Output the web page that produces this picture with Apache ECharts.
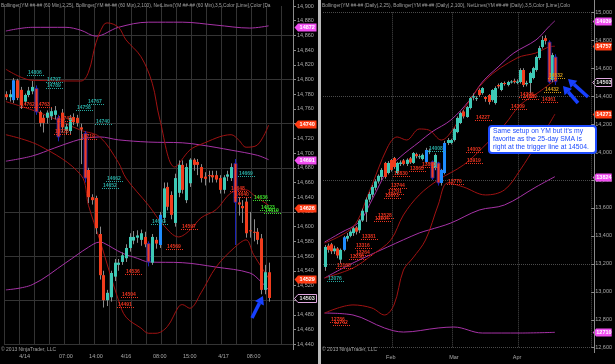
<!DOCTYPE html>
<html>
<head>
<meta charset="utf-8">
<title>YM 60 Min / Daily</title>
<script src="https://cdn.jsdelivr.net/npm/echarts@6.0.0/dist/echarts.min.js"></script>
<style>
html,body{margin:0;padding:0;background:#000;overflow:hidden;}
#chart{width:615px;height:364px;}
</style>
</head>
<body>
<div id="chart"></div>
<script>
// ================= LEFT PANEL : YM 60 Min =================
const leftCategoryCount = 77;
const leftTickLabels = [[5,'4/14'],[16,'07:00'],[24,'14:00'],[32,'4/16'],[41,'08:00'],[49,'15:00'],[58,'4/17'],[66,'08:00']];
const leftVGrid = [0,4,8,12,16,20,24,28,30,34,38,42,46,50,54,58,62,66,70,74];
const leftHGrid = [14440,14500,14560,14620,14680,14740,14800,14860];
// [open, close, low, high]
const leftCandles = [
 [14780,14776,14772,14784],[14776,14780,14770,14786],[14772,14799,14768,14802],[14799,14775,14772,14801],
 [14786,14765,14760,14790],[14770,14779,14766,14781],[14779,14785,14776,14790],[14784,14790,14780,14798],
 [14788,14756,14752,14792],[14756,14741,14736,14758],[14748,14741,14728,14752],[14748,14755,14740,14758],
 [14750,14757,14745,14762],[14752,14758,14746,14764],[14748,14722,14716,14752],[14755,14735,14728,14760],
 [14730,14736,14726,14740],[14730,14748,14726,14752],[14749,14742,14738,14754],[14748,14741,14736,14752],
 [14735,14732,14685,14740],[14727,14666,14660,14730],[14677,14640,14632,14680],[14640,14636,14630,14644],
 [14639,14598,14590,14642],[14590,14534,14528,14600],[14534,14500,14490,14540],[14500,14510,14492,14514],
 [14504,14537,14498,14540],[14532,14551,14526,14556],[14548,14551,14540,14556],[14552,14561,14548,14565],
 [14557,14571,14552,14576],[14571,14586,14566,14591],[14581,14586,14576,14594],[14585,14588,14578,14595],
 [14582,14591,14574,14596],[14586,14576,14572,14593],[14577,14552,14546,14580],[14551,14586,14548,14590],
 [14582,14577,14570,14586],[14575,14616,14571,14620],[14612,14652,14605,14660],[14654,14627,14622,14660],
 [14643,14616,14610,14648],[14605,14666,14600,14672],[14646,14684,14640,14690],[14684,14650,14645,14690],
 [14636,14681,14632,14686],[14659,14691,14654,14693],[14691,14684,14676,14693],[14688,14684,14670,14692],
 [14681,14666,14660,14685],[14668,14665,14656,14674],[14670,14669,14660,14676],[14670,14667,14660,14676],
 [14670,14664,14660,14676],[14666,14650,14645,14670],[14650,14667,14645,14670],[14668,14671,14662,14676],
 [14666,14681,14662,14686],[14686,14633,14575,14692],[14633,14630,14615,14640],[14628,14625,14605,14636],
 [14634,14591,14585,14640],[14595,14594,14585,14620],[14593,14592,14580,14610],[14593,14582,14576,14598],
 [14584,14514,14508,14590],[14514,14538,14508,14548],[14538,14503,14498,14551]
];
const leftBlueBars = [2,41];
const leftOutlinedBars = [8,14,21,38,61];
// Bollinger (2,100) purple
const leftUpper100 = [[0,14866],[7,14871],[16,14871],[20,14867],[24,14859],[30,14871],[38,14878],[47,14878],[56,14874],[65,14870],[70,14873]];
const leftMid100   = [[0,14689],[7,14696],[13,14707],[18,14716],[21,14720],[25,14722],[30,14718],[38,14715],[47,14714],[52,14711],[60,14704],[67,14697],[70,14691]];
const leftLower100 = [[0,14514],[7,14521],[16,14551],[22,14572],[25,14579],[26,14578],[31,14564],[35,14557],[38,14552],[47,14551],[56,14545],[65,14537],[68,14525],[70,14514]];
// Bollinger (2,25) dark red
const leftUpper25 = [[0,14814],[7,14799],[20,14798],[22,14810],[24,14850],[26,14874],[27,14877],[30,14871],[32,14854],[36,14831],[39,14795],[41,14746],[45,14681],[49,14704],[52,14712],[60,14725],[62,14718],[64,14708],[67,14711],[70,14738]];
const leftMid25   = [[0,14770],[9,14755],[20,14731],[25,14722],[30,14687],[32,14666],[38,14629],[42,14602],[46,14586],[49,14595],[52,14612],[56,14623],[60,14646],[64,14650],[66,14643],[70,14629]];
const leftLower25 = [[0,14725],[9,14710],[20,14670],[22,14629],[25,14582],[30,14500],[32,14477],[36,14462],[38,14455],[40,14455],[43,14464],[46,14491],[47,14494],[49,14489],[52,14510],[56,14545],[61,14572],[64,14582],[66,14562],[70,14530]];
// NetLines levels [bar, level, colour: 0 red,1 teal,2 lime,3 orange]
const leftNetLevels = [
 [6,14806,1],[11,14797,1],[11,14789,1],[4,14762,0],[8,14763,0],[22,14767,1],[19,14758,1],[24,14740,1],
 [14,14743,0],[13,14726,0],[20,14719,0],[27,14662,1],[26,14652,1],[39,14603,1],[62,14669,1],[60,14648,0],
 [61,14640,0],[66,14636,2],[68,14623,2],[69,14619,2],[47,14597,0],[43,14569,0],[32,14536,0],[31,14504,0],[30,14491,0]
];
// price markers on the axis [value, kind: 0 pink, 1 red, 2 last]
const leftMarkers = [[14872,0],[14740,1],[14691,0],[14626,1],[14529,1],[14503,2]];

// ================= RIGHT PANEL : YM Daily =================
const rightCategoryCount = 85;
const rightTickLabels = [[21,'Feb'],[41,'Mar'],[61,'Apr']];
const rightVGrid = [22,41,62];
const rightHGrid = [12600,13200,13800,14400,15000];
const rightCandles = [
 [13178,13321,13150,13335],[13330,13300,13280,13345],[13340,13290,13270,13350],[13290,13310,13270,13330],
 [13310,13260,13240,13320],[13230,13300,13200,13310],[13300,13390,13290,13400],[13380,13400,13360,13420],
 [13400,13430,13390,13440],[13420,13455,13400,13465],[13460,13430,13410,13470],[13440,13510,13420,13520],
 [13510,13580,13500,13595],[13570,13660,13500,13675],[13660,13700,13640,13715],[13695,13750,13675,13765],
 [13745,13790,13725,13805],[13790,13830,13775,13840],[13822,13872,13800,13885],[13922,13822,13810,13930],
 [13850,13922,13840,13935],[13943,13872,13860,13950],[13957,13893,13880,13965],[13850,13922,13840,13930],
 [13915,13925,13900,13940],[13940,13915,13905,13950],[13915,13945,13900,13955],[13955,13925,13915,13965],
 [13922,13993,13915,14000],[13985,13970,13955,13995],[13965,13970,13950,13985],[13950,13980,13940,13990],
 [13929,14015,13920,14030],[14000,14010,13985,14025],[13930,13814,13800,13940],[13886,13979,13870,13990],
 [13922,13779,13760,13930],[13779,13872,13760,13880],[13850,14065,13840,14080],[14065,14086,14050,14100],
 [14065,14086,14055,14095],[14086,14165,14075,14175],[14143,14244,14135,14255],[14208,14279,14200,14290],
 [14290,14255,14240,14300],[14251,14322,14245,14330],[14315,14386,14305,14395],[14390,14400,14370,14420],
 [14380,14386,14365,14400],[14444,14408,14395,14455],[14422,14458,14410,14465],[14394,14380,14360,14400],
 [14408,14358,14340,14415],[14372,14444,14360,14450],[14351,14458,14340,14470],[14480,14470,14455,14490],
 [14444,14494,14435,14500],[14494,14490,14475,14505],[14480,14501,14470,14510],[14500,14505,14490,14515],
 [14510,14500,14490,14525],[14495,14505,14485,14520],[14501,14587,14490,14600],[14587,14480,14465,14600],
 [14485,14495,14470,14510],[14494,14566,14420,14575],[14530,14601,14520,14610],[14587,14680,14575,14690],
 [14673,14744,14660,14760],[14752,14802,14740,14830],[14815,14795,14770,14835],[14787,14501,14490,14800],
 [14516,14694,14500,14710],[14680,14503,14480,14700]
];
const rightBlueBars = [6,32,37,38];
const rightOutlinedBars = [34,36,71,73];
const rightUpper100 = [[0,13356],[5,13421],[11,13500],[15,13657],[20,13871],[24,13965],[30,14072],[34,14144],[40,14229],[46,14372],[50,14501],[55,14609],[60,14709],[67,14802],[71,14895],[73,14939]];
const rightMid100   = [[0,13099],[9,13206],[20,13321],[30,13421],[33,13442],[40,13492],[49,13585],[57,13621],[67,13750],[73,13824]];
const rightLower100 = [[0,12848],[9,12834],[19,12741],[25,12712],[36,12741],[41,12748],[50,12705],[62,12705],[73,12710]];
const rightUpper25 = [[0,13349],[9,13464],[14,13707],[20,14036],[23,14108],[26,14086],[30,14165],[33,14158],[37,14086],[41,14172],[44,14301],[51,14516],[61,14673],[67,14709],[71,14752],[73,14757]];
const rightMid25   = [[0,13099],[9,13170],[15,13263],[21,13371],[25,13550],[30,13693],[36,13800],[44,13907],[50,14029],[57,14194],[62,14337],[68,14430],[73,14514]];
const rightLower25 = [[0,12848],[9,12906],[15,12884],[19,12834],[22,12906],[25,13156],[28,13242],[32,13371],[36,13621],[39,13779],[44,13750],[51,13693],[57,13729],[62,13872],[67,14050],[71,14194],[73,14271]];
const rightNetLevels = [
 [1,13076,1],[4,13168,0],[8,13238,0],[10,13264,0],[10,13316,0],[12,13381,0],[16,13504,0],[17,13528,0],
 [19,13673,0],[20,13701,0],[21,13744,0],[22,13830,0],[27,13863,0],[31,13890,0],[33,14008,1],[39,13770,0],
 [45,13919,0],[45,14003,0],[48,14227,0],[59,14309,0],[62,14396,0],[63,14380,0],[69,14361,0],[70,14432,3],
 [71,14532,3],[2,12786,0],[3,12762,0]
];
const rightMarkers = [[14939,0],[14757,1],[14503,2],[14271,1],[13824,0],[12710,0]];

const leftTitle = 'Bollinger(YM ##-## (60 Min),2,25), Bollinger(YM ##-## (60 Min),2,100), NetLines(YM ##-## (60 Min),3,5,Color [Lime],Color [Da';
const rightTitle = 'Bollinger(YM ##-## (Daily),2,25), Bollinger(YM ##-## (Daily),2,100), NetLines(YM ##-## (Daily),3,5,Color [Lime],Colo';
const copyrightText = '\u00A9 2013 NinjaTrader, LLC';
const noteLines = ["Same setup on YM but it's my", 'favorite as the 25-day SMA is', 'right at the trigger line at 14504.'];

// ================= STYLE =================
const C_UP = '#3ec9b6', C_DN = '#f23c1c', C_BLUE = '#1e8cff', C_DKBLUE = '#1a22b8', C_WICK = '#8a8a8a';
const C_PURPLE = '#a632a6', C_DKRED = '#a01212';
const NET_COLORS = ['#e8321e', '#26a8a0', '#3bd62a', '#d49a18'];
const MARK_STYLE = [
  {bg:'#f04ef0', fg:'#ffffff', stroke:null},
  {bg:'#ff3a12', fg:'#ffffff', stroke:null},
  {bg:'#000000', fg:'#e6e6e6', stroke:'#e0a8e0'}
];
const FONT = '"Liberation Sans", Arial, sans-serif';
const ARROW_BLUE = '#1740ff';

function candleData(list, blue, outl) {
  return list.map((d, i) => [i, d[0], d[1], d[2], d[3], blue.includes(i) ? 1 : (outl.includes(i) ? 2 : 0)]);
}
function renderCandle(params, api) {
  const i = api.value(0);
  const o = api.value(1), c = api.value(2), l = api.value(3), h = api.value(4), st = api.value(5);
  const po = api.coord([i, o]), pc = api.coord([i, c]), pl = api.coord([i, l]), ph = api.coord([i, h]);
  const bw = Math.max(2, Math.round(api.size([1, 0])[0] * 0.8));
  const cx = Math.round(po[0]) + 0.5;
  let fill = c >= o ? C_UP : C_DN;
  if (st === 1) fill = C_BLUE;
  const top = Math.min(po[1], pc[1]);
  const hh = Math.max(1, Math.abs(po[1] - pc[1]));
  const wick = st === 2 ? C_DKBLUE : C_WICK;
  return {type: 'group', children: [
    {type: 'line', shape: {x1: cx, y1: ph[1], x2: cx, y2: pl[1]}, style: {stroke: wick, lineWidth: 1}},
    {type: 'rect', shape: {x: cx - bw / 2, y: top, width: bw, height: hh},
     style: {fill: fill, stroke: st === 2 ? C_DKBLUE : null, lineWidth: st === 2 ? 0.8 : 0}}
  ]};
}
function renderNet(params, api) {
  const p = api.coord([api.value(0), api.value(1)]);
  const col = NET_COLORS[api.value(2)];
  const x = Math.round(p[0]) - 1, y = Math.round(p[1]) + 0.5;
  return {type: 'group', children: [
    {type: 'line', shape: {x1: x, y1: y, x2: x + 17, y2: y}, style: {stroke: col, lineWidth: 1, lineDash: [1, 1]}},
    {type: 'text', x: x + 1, y: y - 0.5, style: {text: String(api.value(1)), fill: col, font: 'bold 5px ' + FONT, align: 'left', verticalAlign: 'bottom'}}
  ]};
}
function makeMarkerRender(width) {
  return function (params, api) {
    const cs = params.coordSys;
    const y = Math.round(api.coord([0, api.value(1)])[1]) + 0.5;
    const x0 = cs.x + cs.width + 1.5;
    const k = MARK_STYLE[api.value(2)];
    const h = 8;
    return {type: 'group', children: [
      {type: 'polygon', shape: {points: [[x0, y], [x0 + 3.5, y - h / 2], [x0 + width, y - h / 2], [x0 + width, y + h / 2], [x0 + 3.5, y + h / 2]]},
       style: {fill: k.bg, stroke: k.stroke, lineWidth: k.stroke ? 1 : 0}},
      {type: 'text', x: x0 + 3.5 + (width - 3.5) / 2, y: y, style: {text: String(api.value(1)), fill: k.fg, font: 'bold 5.5px ' + FONT, align: 'center', verticalAlign: 'middle'}}
    ]};
  };
}
function lineSeries(data, color, ax, extra) {
  return Object.assign({type: 'line', data: data, xAxisIndex: ax, yAxisIndex: ax, showSymbol: false, symbol: 'none',
    smooth: 0.35, lineStyle: {color: color, width: 1}, itemStyle: {color: color}, z: 2, silent: true, animation: false}, extra || {});
}
function hGridMark(values, color, dash) {
  return {markLine: {silent: true, symbol: ['none', 'none'], label: {show: false}, animation: false, z: 1,
    lineStyle: {color: color, type: dash, width: 1}, emphasis: {disabled: true},
    data: values.map(v => ({yAxis: v}))}};
}
function tickMap(list) { const m = {}; list.forEach(t => { m[t[0]] = t[1]; }); return m; }
const leftTickMap = tickMap(leftTickLabels), rightTickMap = tickMap(rightTickLabels);

function arrow(x1, y1, x2, y2) {
  const dx = x2 - x1, dy = y2 - y1, L = Math.hypot(dx, dy), ux = dx / L, uy = dy / L;
  const hl = 8, hw = 5;
  const bx = x2 - ux * hl, by = y2 - uy * hl;
  return [
    {type: 'line', z: 100, shape: {x1: x1, y1: y1, x2: bx, y2: by}, style: {stroke: ARROW_BLUE, lineWidth: 3.5}},
    {type: 'polygon', z: 100, shape: {points: [[x2, y2], [bx - uy * hw, by + ux * hw], [bx + uy * hw, by - ux * hw]]}, style: {fill: ARROW_BLUE}}
  ];
}

const chart = echarts.init(document.getElementById('chart'), null, {renderer: 'canvas'});
const axisLabelStyle = {color: '#a8a8a8', fontSize: 5.5, fontFamily: FONT};

const option = {
  backgroundColor: '#000',
  animation: false,
  grid: [
    {left: 4, right: 322, top: 6, bottom: 19.7},
    {left: 323, right: 21, top: 12.3, bottom: 16.3}
  ],
  xAxis: [
    {gridIndex: 0, type: 'category', data: Array.from({length: leftCategoryCount}, (_, i) => String(i)), boundaryGap: true,
     axisLine: {show: false}, axisTick: {show: false},
     axisLabel: Object.assign({interval: 0, margin: 9.5, formatter: (v, i) => leftTickMap[i] || ''}, axisLabelStyle),
     splitLine: {show: true, interval: (i) => leftVGrid.includes(i), lineStyle: {color: '#333333', width: 1}}},
    {gridIndex: 1, type: 'category', data: Array.from({length: rightCategoryCount}, (_, i) => String(i)), boundaryGap: true,
     axisLine: {show: false}, axisTick: {show: false},
     axisLabel: Object.assign({interval: 0, margin: 7, formatter: (v, i) => rightTickMap[i] || ''}, axisLabelStyle),
     splitLine: {show: true, interval: (i) => rightVGrid.includes(i), lineStyle: {color: '#4a4a4a', width: 1, type: [1, 1]}}}
  ],
  yAxis: [
    {gridIndex: 0, type: 'value', position: 'right', min: 14440, max: 14900, interval: 20, scale: true,
     axisLine: {show: false}, axisTick: {show: true, length: 3, lineStyle: {color: '#8a8a8a'}},
     axisLabel: Object.assign({margin: 4, showMinLabel: true, showMaxLabel: true}, axisLabelStyle),
     splitLine: {show: false}},
    {gridIndex: 1, type: 'value', position: 'right', min: 12600, max: 15000, interval: 200, scale: true,
     axisLine: {show: false}, axisTick: {show: true, length: 3, lineStyle: {color: '#8a8a8a'}},
     axisLabel: Object.assign({margin: 4, showMinLabel: true, showMaxLabel: true}, axisLabelStyle),
     splitLine: {show: false}}
  ],
  series: [
    // left panel
    lineSeries(leftUpper100, C_PURPLE, 0, hGridMark(leftHGrid, '#343434', 'solid')),
    lineSeries(leftMid100, C_PURPLE, 0),
    lineSeries(leftLower100, C_PURPLE, 0),
    lineSeries(leftUpper25, C_DKRED, 0),
    lineSeries(leftMid25, C_DKRED, 0),
    lineSeries(leftLower25, C_DKRED, 0),
    {type: 'custom', xAxisIndex: 0, yAxisIndex: 0, z: 3, silent: true, animation: false,
     data: candleData(leftCandles, leftBlueBars, leftOutlinedBars), encode: {x: 0, y: [1, 2, 3, 4]}, renderItem: renderCandle},
    {type: 'custom', xAxisIndex: 0, yAxisIndex: 0, z: 4, silent: true, animation: false,
     data: leftNetLevels, encode: {x: 0, y: 1}, renderItem: renderNet},
    {type: 'custom', xAxisIndex: 0, yAxisIndex: 0, z: 6, silent: true, animation: false, clip: false,
     data: leftMarkers.map(m => [0, m[0], m[1]]), encode: {x: 0, y: 1}, renderItem: makeMarkerRender(22)},
    // right panel
    lineSeries(rightUpper100, C_PURPLE, 1, hGridMark(rightHGrid, '#4a4a4a', [1, 1])),
    lineSeries(rightMid100, C_PURPLE, 1),
    lineSeries(rightLower100, C_PURPLE, 1),
    lineSeries(rightUpper25, C_DKRED, 1),
    lineSeries(rightMid25, C_DKRED, 1),
    lineSeries(rightLower25, C_DKRED, 1),
    {type: 'custom', xAxisIndex: 1, yAxisIndex: 1, z: 3, silent: true, animation: false,
     data: candleData(rightCandles, rightBlueBars, rightOutlinedBars), encode: {x: 0, y: [1, 2, 3, 4]}, renderItem: renderCandle},
    {type: 'custom', xAxisIndex: 1, yAxisIndex: 1, z: 4, silent: true, animation: false,
     data: rightNetLevels, encode: {x: 0, y: 1}, renderItem: renderNet},
    {type: 'custom', xAxisIndex: 1, yAxisIndex: 1, z: 6, silent: true, animation: false, clip: false,
     data: rightMarkers.map(m => [0, m[0], m[1]]), encode: {x: 0, y: 1}, renderItem: makeMarkerRender(19)}
  ],
  graphic: [
    {type: 'rect', z: 50, shape: {x: 318, y: 0, width: 3, height: 364}, style: {fill: '#b9b9b9'}},
    {type: 'line', z: 50, shape: {x1: 293.5, y1: 0, x2: 293.5, y2: 350}, style: {stroke: '#8a8a8a', lineWidth: 1}},
    {type: 'line', z: 50, shape: {x1: 594.5, y1: 0, x2: 594.5, y2: 353}, style: {stroke: '#8a8a8a', lineWidth: 1}},
    {type: 'text', z: 50, x: 1, y: 5.5, style: {text: leftTitle, fill: '#a0a0a0', font: '4.8px ' + FONT, verticalAlign: 'middle', width: 291, overflow: 'truncate', ellipsis: ''}},
    {type: 'text', z: 50, x: 322, y: 5.5, style: {text: rightTitle, fill: '#a0a0a0', font: '4.8px ' + FONT, verticalAlign: 'middle', width: 271, overflow: 'truncate', ellipsis: ''}},
    {type: 'text', z: 50, x: 1, y: 350, style: {text: copyrightText, fill: '#a0a0a0', font: '5px ' + FONT, verticalAlign: 'middle'}},
    {type: 'text', z: 50, x: 322, y: 350, style: {text: copyrightText, fill: '#a0a0a0', font: '5px ' + FONT, verticalAlign: 'middle'}},
    {type: 'rect', z: 100, shape: {x: 489, y: 126, width: 107, height: 27, r: 3}, style: {fill: '#ffffff', stroke: '#1f4cff', lineWidth: 2}},
    {type: 'text', z: 101, x: 493, y: 131.5, style: {text: noteLines[0], fill: '#1f4cff', font: '6.8px ' + FONT, verticalAlign: 'middle'}},
    {type: 'text', z: 101, x: 493, y: 139.5, style: {text: noteLines[1], fill: '#1f4cff', font: '6.8px ' + FONT, verticalAlign: 'middle'}},
    {type: 'text', z: 101, x: 493, y: 147.5, style: {text: noteLines[2], fill: '#1f4cff', font: '6.8px ' + FONT, verticalAlign: 'middle'}}
  ].concat(arrow(252, 318, 263, 296), arrow(588, 97, 568, 79), arrow(578, 103, 563, 86))
};
chart.setOption(option);
</script>
</body>
</html>
